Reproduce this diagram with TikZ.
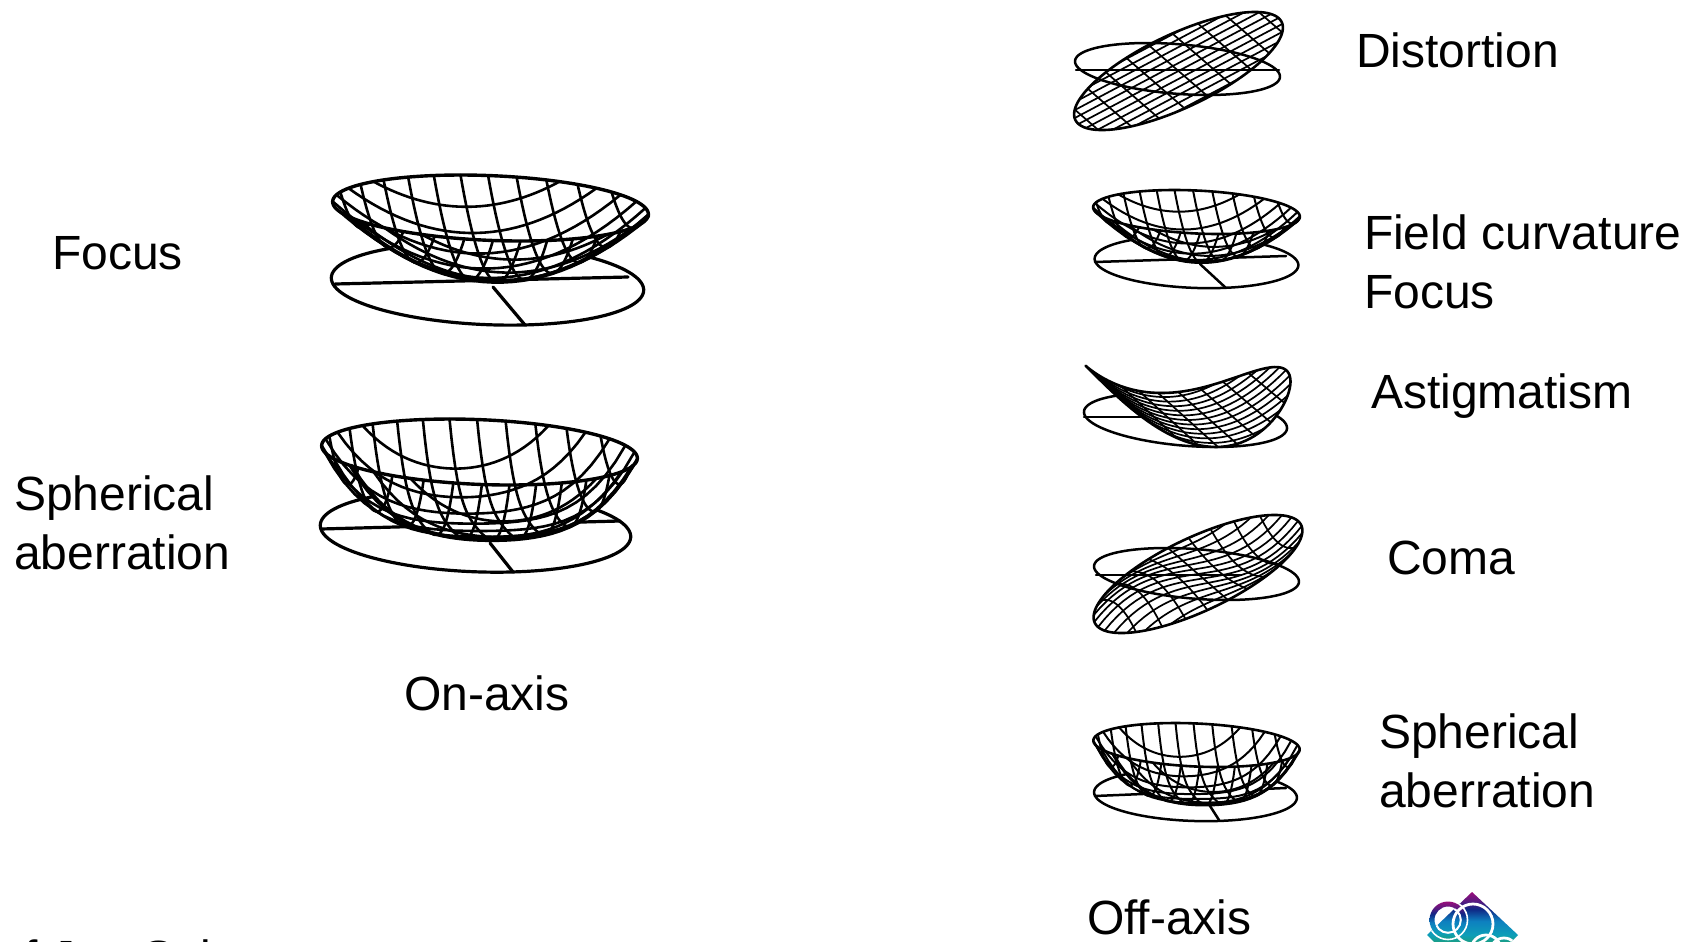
\documentclass[tikz,border=0pt]{standalone}
\usepackage{fontspec}
\setmainfont{Liberation Sans}
\pgfdeclareverticalshading{logoshade}{100bp}{rgb(0bp)=(0.10,0.62,0.52);rgb(25bp)=(0.10,0.62,0.52);rgb(32bp)=(0.05,0.62,0.72);rgb(46bp)=(0.05,0.50,0.75);rgb(58bp)=(0.06,0.15,0.52);rgb(66bp)=(0.35,0.10,0.50);rgb(75bp)=(0.60,0.05,0.48);rgb(100bp)=(0.60,0.05,0.48)}
% oblique view: screen = (cx + a u - s v , cy - b v - h(u,v))
\newcommand{\setview}[5]{\def\mcx{#1}\def\mcy{#2}\def\mca{#3}\def\mcs{#4}\def\mcb{#5}}
\newcommand{\ptx}{\mcx+\mca*(\mU)-\mcs*(\mV)}
\newcommand{\pty}{\mcy-\mcb*(\mV)-(\mh)}
\newcommand{\rimcurve}[1]{\def\mU{cos(\t)}\def\mV{sin(\t)}%
  \path[#1] plot[domain=0:360,samples=120,variable=\t] ({\ptx},{\pty}) -- cycle;}
\newcommand{\ucurve}[2]{\pgfmathsetmacro\mlim{sqrt(1-(#1)*(#1))}\def\mU{#1}\def\mV{\t}%
  \path[#2] plot[domain=-\mlim:\mlim,samples=32,variable=\t] ({\ptx},{\pty});}
\newcommand{\vcurve}[2]{\pgfmathsetmacro\mlim{sqrt(1-(#1)*(#1))}\def\mV{#1}\def\mU{\t}%
  \path[#2] plot[domain=-\mlim:\mlim,samples=32,variable=\t] ({\ptx},{\pty});}
\newcommand{\vcurvefill}[2]{\pgfmathsetmacro\mlim{sqrt(1-(#1)*(#1))}\def\mV{#1}\def\mU{\t}%
  \path[#2] plot[domain=-\mlim:\mlim,samples=32,variable=\t] ({\ptx},{\pty}) -- cycle;}
\newcommand{\meshgrid}[3]{%
  \foreach \i in {-10,...,10}{%
    \pgfmathsetmacro\mc{\i*#1}\pgfmathparse{abs(\mc)<0.985?1:0}%
    \ifdim\pgfmathresult pt>0.5pt \ucurve{\mc}{#3}\fi}%
  \foreach \i in {-10,...,10}{%
    \pgfmathsetmacro\mc{\i*#2}\pgfmathparse{abs(\mc)<0.985?1:0}%
    \ifdim\pgfmathresult pt>0.5pt \vcurve{\mc}{#3}\fi}}
% disc: centre x, centre y, a, s, b, tilt, style
\newcommand{\discflat}[7]{\setview{#1}{#2}{#3}{#4}{#5}\def\mh{#6*(\mU)}\rimcurve{draw,#7}}
\def\rsq{((\mU)*(\mU)+(\mV)*(\mV))}
\tikzset{
  thickline/.style={line width=3.2pt,black,line join=round,line cap=round},
  smallline/.style={line width=2.5pt,black,line join=round,line cap=round},
  meshbig/.style={draw,line width=2.6pt,black,line join=round,line cap=round},
  meshsmall/.style={draw,line width=2pt,black,line join=round,line cap=round},
  meshfine/.style={draw,line width=1.7pt,black,line join=round,line cap=round},
  contour/.style={draw,line width=4pt,black,line join=round,line cap=round},
  contoursmall/.style={draw,line width=3pt,black,line join=round,line cap=round},
  rimbig/.style={draw,line width=3.4pt,black,line join=round},
  rimsmall/.style={draw,line width=2.6pt,black,line join=round},
  lbl/.style={inner sep=0pt,outer sep=0pt,anchor=base west,align=left,font=\fontsize{48}{58.5}\selectfont},
}
\begin{document}
\begin{tikzpicture}[x=1pt,y=-1pt]
\clip (0,0) rectangle (1698,942);
\fill[white] (0,0) rectangle (1698,942);

% ---------- on-axis focus
\discflat{487.5}{284}{152}{36}{41}{3.5}{thickline}
\draw[thickline] (335,284) -- (628,277);
\draw[thickline] (493,287) -- (525,325);
\setview{490.5}{208}{155}{30}{33}\def\dep{70}
\def\mh{-\dep*(1-\rsq)}
\rimcurve{fill=white}\vcurvefill{-0.236}{fill=white}
\meshgrid{0.175}{0.2}{meshbig}
\vcurve{-0.236}{contour}
\rimcurve{rimbig}

% ---------- on-axis spherical aberration
\discflat{475.5}{531}{151}{36}{41}{4}{thickline}
\draw[thickline] (321,529) -- (620,521);
\draw[thickline] (490,543) -- (513,572);
\setview{479.5}{452}{155}{30}{33}\def\dep{79}
\def\mh{-\dep*(1-0.2*\rsq-0.8*\rsq*\rsq)}
\rimcurve{fill=white}\vcurvefill{-0.42}{fill=white}
\meshgrid{0.175}{0.2}{meshbig}
\vcurve{-0.42}{contour}
\rimcurve{rimbig}

% ---------- distortion
\discflat{1177.5}{69}{98}{30}{26}{0}{smallline}
\draw[smallline] (1076,70) -- (1279,70);
\setview{1178.5}{71}{100}{30}{26}
\def\mh{53*(\mU)}
\meshgrid{0.23}{0.19}{meshfine}
\rimcurve{rimsmall}

% ---------- field curvature
\discflat{1196.5}{262}{99}{24}{26}{3}{smallline}
\draw[smallline] (1095,262) -- (1286,256);
\draw[smallline] (1200,264) -- (1226,288);
\setview{1196.5}{212}{101}{22}{22}\def\dep{48}
\def\mh{-\dep*(1-\rsq)}
\rimcurve{fill=white}\vcurvefill{-0.229}{fill=white}
\meshgrid{0.18}{0.2}{meshsmall}
\vcurve{-0.229}{contoursmall}
\rimcurve{rimsmall}

% ---------- astigmatism
\discflat{1185.5}{420}{97}{30}{27}{0}{smallline}
\draw[smallline] (1084,417) -- (1185,417);
\setview{1188}{420}{98}{30}{27}
\def\mh{50*((\mU)*0.9997+(\mV)*(-0.026))*((\mU)*0.9997+(\mV)*(-0.026))}
\rimcurve{fill=white}
\meshgrid{0.2}{0.17}{meshfine}
\rimcurve{rimsmall}

% ---------- coma
\discflat{1196.5}{574}{98}{30}{26}{0}{smallline}
\draw[smallline] (1096,575) -- (1240,575);
\setview{1198}{574}{100}{30}{26}
\def\mh{15*(\mU)+38*(\mU)*\rsq}
\meshgrid{0.2}{0.17}{meshfine}
\rimcurve{rimsmall}

% ---------- off-axis spherical aberration
\discflat{1195.5}{795}{99}{22}{26}{3}{smallline}
\draw[smallline] (1095,796) -- (1286,788);
\draw[smallline] (1203,795) -- (1219,820);
\setview{1196.5}{745}{101}{21}{22}\def\dep{54}
\def\mh{-\dep*(1-0.2*\rsq-0.8*\rsq*\rsq)}
\rimcurve{fill=white}\vcurvefill{-0.41}{fill=white}
\meshgrid{0.175}{0.2}{meshsmall}
\vcurve{-0.41}{contoursmall}
\rimcurve{rimsmall}

% ---------- logo
\begin{scope}
  \clip (1472,892) -- (1518,935) -- (1511,942) -- (1434,942) -- (1427,935) -- cycle;
  \shade[shading=logoshade] (1420,892) rectangle (1525,942);
\end{scope}
\shade[shading=logoshade,even odd rule] (1448,920) circle (18.5) (1448,920) circle (13.5);
\begin{scope}
  \clip (1472,892) -- (1518,935) -- (1511,942) -- (1434,942) -- (1427,935) -- cycle;
  \draw[white,line width=1.6pt] (1448,920) circle (19.5);
  \draw[white,line width=2pt] (1448,920) circle (12.8);
  \draw[white,line width=2.8pt] (1473,924) circle (20);
  \draw[white,line width=2.8pt] (1486,950) circle (15);
  \draw[white,line width=2.8pt] (1504,952) circle (14);
\end{scope}

% ---------- labels
\node[lbl] (lfocus) at (52,269) {Focus};
\node[lbl] (lsph) at (14,569) {Spherical\\aberration};
\node[lbl] (lon) at (404,710) {On-axis};
\node[lbl] (ldist) at (1356,68) {Distortion};
\node[lbl] (lfield) at (1364,308) {Field curvature\\Focus};
\node[lbl] (lastig) at (1371,408) {Astigmatism};
\node[lbl] (lcoma) at (1387,574) {Coma};
\node[lbl] (lsph2) at (1379,807) {Spherical\\aberration};
\node[lbl] (loff) at (1087,934) {Off-axis};
\node[lbl] (lcredit) at (-2,974) {of Joe Sai};
\end{tikzpicture}
\end{document}
